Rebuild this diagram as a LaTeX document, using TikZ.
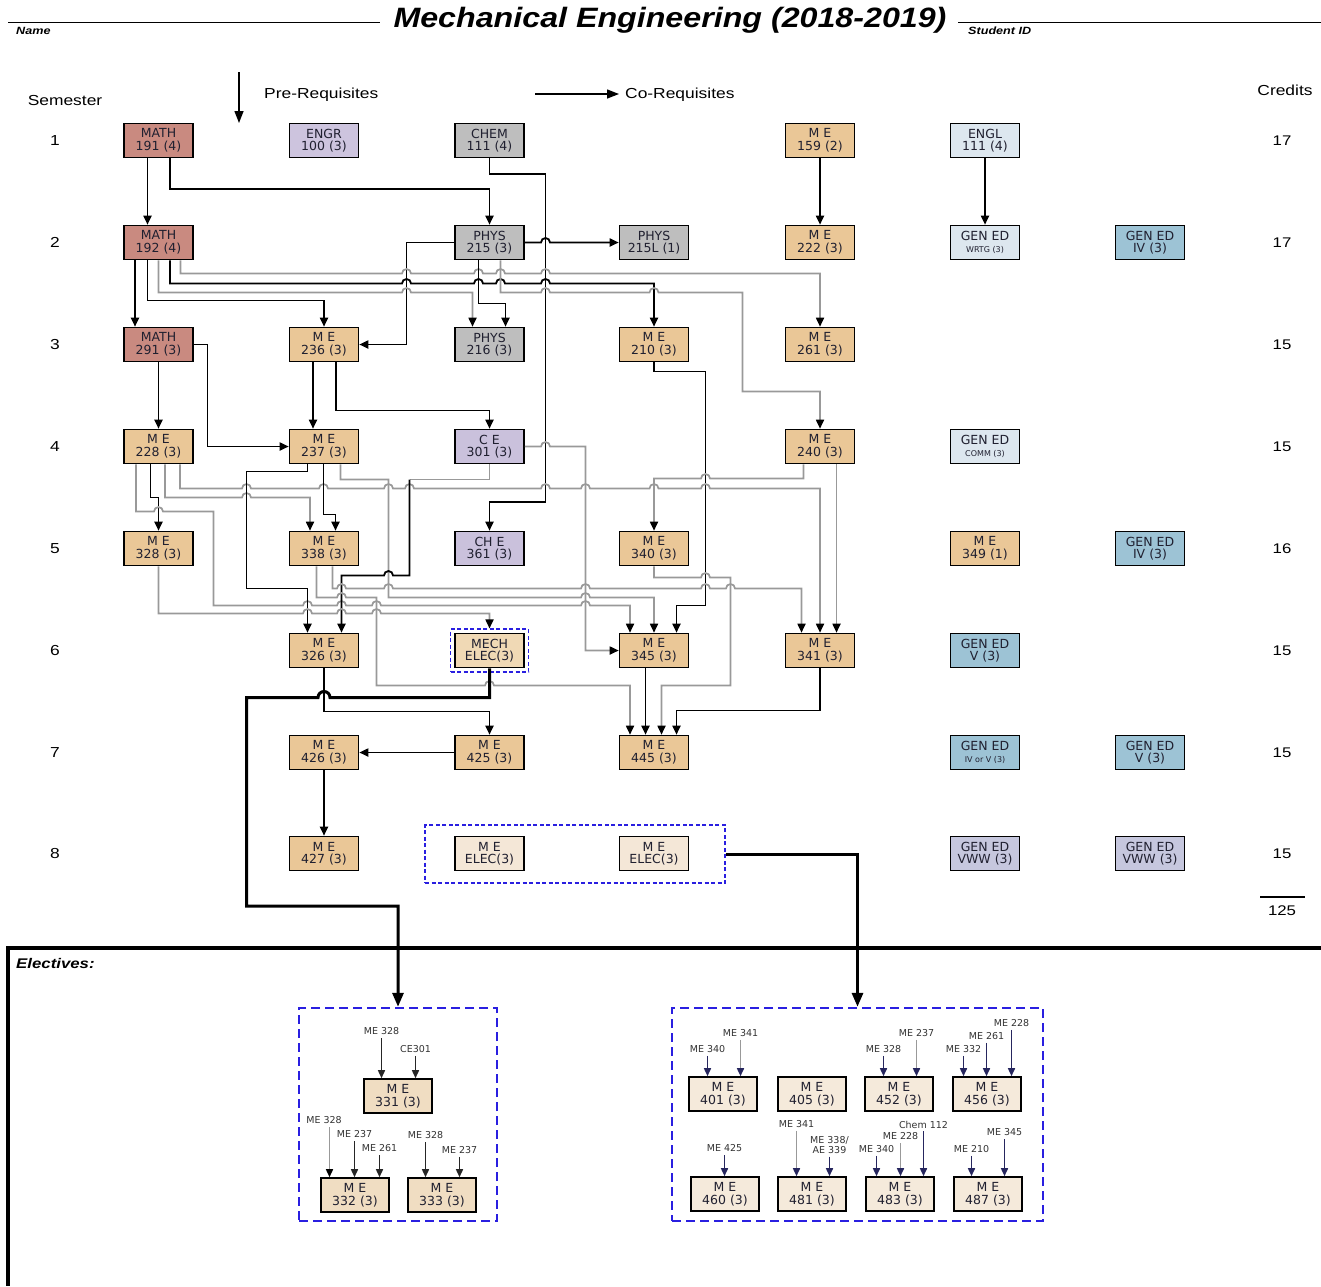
\documentclass[tikz,border=0pt]{standalone}
\usepackage{fontspec}
\setmainfont{Liberation Sans}
\newfontfamily\widesans[FakeStretch=1.2]{Liberation Sans}
\newfontfamily\titlesans[FakeStretch=1.15]{Liberation Sans}
\newfontfamily\boxsans{DejaVu Sans}
\usetikzlibrary{arrows.meta}

\definecolor{mathfill}{HTML}{C98A80}
\definecolor{engrfill}{HTML}{CDC4DE}
\definecolor{scifill}{HTML}{BEBEBE}
\definecolor{mefill}{HTML}{EAC797}
\definecolor{cefill}{HTML}{CAC1DC}
\definecolor{englfill}{HTML}{DDE7EF}
\definecolor{genfill}{HTML}{9DC3D5}
\definecolor{vwwfill}{HTML}{C6C7DE}
\definecolor{mechfill}{HTML}{F0D9B5}
\definecolor{elecfill}{HTML}{F4E7D7}
\definecolor{optafill}{HTML}{F0DDC2}
\definecolor{optbfill}{HTML}{F5EADB}
\definecolor{linegray}{HTML}{999999}
\definecolor{dashblue}{HTML}{2A1FE0}
\definecolor{navy}{HTML}{26265E}
\definecolor{boxtext}{HTML}{202030}

% small jumps of a horizontal line over a vertical one at x=#1, y=#2
\newcommand\hopR[2]{-- ({#1-4.5},#2) arc[start angle=180,end angle=0,radius=4.5pt]}
\newcommand\hopL[2]{-- ({#1+4.5},#2) arc[start angle=0,end angle=180,radius=4.5pt]}
\newcommand\bighopL[2]{-- ({#1+6},#2) arc[start angle=0,end angle=180,radius=6pt]}
\newcommand\smalltxt{\fontsize{8}{9}\selectfont}

\tikzset{
  course/.style={draw=black, line width=1.6pt, minimum width=69pt, minimum height=34pt,
    inner sep=0pt, align=center, text=boxtext, font=\boxsans\fontsize{12.5}{12.5}\selectfont},
  mathbox/.style={course, fill=mathfill},
  engrbox/.style={course, fill=engrfill},
  scibox/.style={course, fill=scifill},
  mebox/.style={course, fill=mefill},
  cebox/.style={course, fill=cefill},
  englbox/.style={course, fill=englfill},
  genbox/.style={course, fill=genfill},
  vwwbox/.style={course, fill=vwwfill},
  mechbox/.style={course, fill=mechfill},
  elecbox/.style={course, fill=elecfill},
  optabox/.style={course, fill=optafill, minimum width=68pt, minimum height=34pt},
  optbbox/.style={course, fill=optbfill, minimum width=68pt, minimum height=34pt},
  dashframe/.style={draw=dashblue, line width=1.1pt, dash pattern=on 4pt off 2.5pt, inner sep=0pt},
  bigframe/.style={draw=dashblue, line width=2.4pt, dash pattern=on 9pt off 5pt, inner sep=0pt},
  preline/.style={draw=black, line width=1.8pt, -{Triangle[length=9pt,width=8pt]}},
  coline/.style={draw=linegray, line width=1.7pt, -{Triangle[length=9pt,width=8pt,color=black]}},
  legendarrow/.style={draw=black, line width=1.4pt, -{Triangle[length=12pt,width=9pt]}},
  thickarrow/.style={draw=black, line width=3pt, -{Triangle[length=14pt,width=11pt]}},
  legend/.style={inner sep=1pt, font=\widesans\fontsize{14.5}{16}\selectfont},
  credit/.style={inner sep=1pt, font=\widesans\fontsize{14}{16}\selectfont},
  optlabel/.style={inner sep=1pt, align=center, text=black!80, font=\boxsans\fontsize{9.5}{10}\selectfont},
  optarrow/.style={draw=black!85, line width=1.5pt, shorten <=2pt, -{Triangle[length=8pt,width=7pt]}},
  optgrayarrow/.style={draw=linegray, line width=1.5pt, shorten <=2pt, -{Triangle[length=8pt,width=7pt,color=black]}},
  optnavy/.style={draw=navy, line width=1.5pt, shorten <=2pt, -{Triangle[length=8pt,width=7pt]}},
  optnavygray/.style={draw=linegray, line width=1.5pt, shorten <=2pt, -{Triangle[length=8pt,width=7pt,color=navy]}},
}

\begin{document}
\begin{tikzpicture}[x=1pt,y=-1pt]
\useasboundingbox (0,0) rectangle (1321,1286);
\fill[white] (0,0) rectangle (1321,1286);

% ---------- header ----------
\node[font=\titlesans\bfseries\itshape\fontsize{28}{30}\selectfont, inner sep=0pt] (title) at (670,20) {Mechanical Engineering (2018-2019)};
\draw[line width=1pt] (8,22) -- (380,22);
\draw[line width=1pt] (958,22) -- (1321,22);
\node[font=\widesans\bfseries\itshape\fontsize{10.5}{12}\selectfont, anchor=west, inner sep=0pt] (namelbl) at (16,31) {Name};
\node[font=\widesans\bfseries\itshape\fontsize{10.5}{12}\selectfont, anchor=west, inner sep=0pt] (idlbl) at (968,31) {Student ID};

% ---------- legend ----------
\node[legend] (semh) at (65,101) {Semester};
\coordinate (lgA) at (239,72);
\coordinate (lgB) at (239,123);
\draw[legendarrow] (lgA) -- (lgB);
\node[legend, anchor=west] (preh) at (263,95) {Pre-Requisites};
\coordinate (lgC) at (535,94);
\coordinate (lgD) at (619,94);
\draw[legendarrow] (lgC) -- (lgD);
\node[legend, anchor=west] (coh) at (624,95) {Co-Requisites};
\node[legend] (crh) at (1285,90) {Credits};

% ---------- semester numbers and credits ----------
\foreach \s/\yy/\cr in {1/140.5/17, 2/242.5/17, 3/344.5/15, 4/446.5/15, 5/548.5/16, 6/650.5/15, 7/752.5/15, 8/853.5/15}{
  \node[legend] (sem\s) at (55,\yy) {\s};
  \node[credit] (cred\s) at (1282,\yy) {\cr};
}
\draw[line width=1.6pt] (1260,897) -- (1305,897);
\node[credit] (total) at (1282,911) {125};

% ---------- courses ----------
\node[mathbox] (m191) at (158.5,140.5) {MATH\\191 (4)};
\node[engrbox] (e100) at (324,140.5) {ENGR\\100 (3)};
\node[scibox] (ch111) at (489.5,140.5) {CHEM\\111 (4)};
\node[mebox] (me159) at (820,140.5) {M E\\159 (2)};
\node[englbox] (en111) at (985,140.5) {ENGL\\111 (4)};

\node[mathbox] (m192) at (158.5,242.5) {MATH\\192 (4)};
\node[scibox] (p215) at (489.5,242.5) {PHYS\\215 (3)};
\node[scibox] (p215l) at (654,242.5) {PHYS\\215L (1)};
\node[mebox] (me222) at (820,242.5) {M E\\222 (3)};
\node[englbox] (gwrtg) at (985,242.5) {GEN ED\\\smalltxt WRTG (3)};
\node[genbox] (giv1) at (1150,242.5) {GEN ED\\IV (3)};

\node[mathbox] (m291) at (158.5,344.5) {MATH\\291 (3)};
\node[mebox] (me236) at (324,344.5) {M E\\236 (3)};
\node[scibox] (p216) at (489.5,344.5) {PHYS\\216 (3)};
\node[mebox] (me210) at (654,344.5) {M E\\210 (3)};
\node[mebox] (me261) at (820,344.5) {M E\\261 (3)};

\node[mebox] (me228) at (158.5,446.5) {M E\\228 (3)};
\node[mebox] (me237) at (324,446.5) {M E\\237 (3)};
\node[cebox] (ce301) at (489.5,446.5) {C E\\301 (3)};
\node[mebox] (me240) at (820,446.5) {M E\\240 (3)};
\node[englbox] (gcomm) at (985,446.5) {GEN ED\\\smalltxt COMM (3)};

\node[mebox] (me328) at (158.5,548.5) {M E\\328 (3)};
\node[mebox] (me338) at (324,548.5) {M E\\338 (3)};
\node[cebox] (che361) at (489.5,548.5) {CH E\\361 (3)};
\node[mebox] (me340) at (654,548.5) {M E\\340 (3)};
\node[mebox] (me349) at (985,548.5) {M E\\349 (1)};
\node[genbox] (giv2) at (1150,548.5) {GEN ED\\IV (3)};

\node[mebox] (me326) at (324,650.5) {M E\\326 (3)};
\node[dashframe, minimum width=78pt, minimum height=43pt] (mechf) at (489.5,650.5) {};
\node[mechbox] (mech) at (489.5,650.5) {MECH\\ELEC(3)};
\node[mebox] (me345) at (654,650.5) {M E\\345 (3)};
\node[mebox] (me341) at (820,650.5) {M E\\341 (3)};
\node[genbox] (gv1) at (985,650.5) {GEN ED\\V (3)};

\node[mebox] (me426) at (324,752.5) {M E\\426 (3)};
\node[mebox] (me425) at (489.5,752.5) {M E\\425 (3)};
\node[mebox] (me445) at (654,752.5) {M E\\445 (3)};
\node[genbox] (givv) at (985,752.5) {GEN ED\\\smalltxt IV or V (3)};
\node[genbox] (gv2) at (1150,752.5) {GEN ED\\V (3)};

\node[mebox] (me427) at (324,853.5) {M E\\427 (3)};
\node[dashframe, minimum width=300pt, minimum height=58pt] (elgrp) at (575,854) {};
\node[elecbox] (el1) at (489.5,853.5) {M E\\ELEC(3)};
\node[elecbox] (el2) at (654,853.5) {M E\\ELEC(3)};
\node[vwwbox] (gvww1) at (985,853.5) {GEN ED\\VWW (3)};
\node[vwwbox] (gvww2) at (1150,853.5) {GEN ED\\VWW (3)};

% ---------- prerequisite and co-requisite lines ----------
\draw[preline] ([xshift=-11pt]m191.south) -- ([xshift=-11pt]m192.north);
\draw[preline] ([xshift=11.5pt]m191.south) |- (489.5,189) -- (p215.north);
\draw[preline] (ch111.south) |- (545.5,174) -- (545.5,502) -| (che361.north);
\draw[preline] (me159.south) -- (me222.north);
\draw[preline] (en111.south) -- (gwrtg.north);
\draw[preline] (p215.east) \hopR{545.5}{242.5} -- (p215l.west);
\draw[preline] (p215.west) -| (406.5,344.5) -- (me236.east);

\draw[preline] ([xshift=-23.5pt]m192.south) -- ([xshift=-23.5pt]m291.north);
\draw[preline] ([xshift=-11pt]m192.south) |- (324,300.5) -- (me236.north);
\draw[coline] (m192.south) -- (158.5,292.5) \hopR{406.5}{292.5} -| ([xshift=-17pt]p216.north);
\draw[preline] ([xshift=11.5pt]m192.south) -- (170,283.5) \hopR{406.5}{283.5} \hopR{478.5}{283.5} \hopR{500.5}{283.5} \hopR{545.5}{283.5} -| (me210.north);
\draw[coline] ([xshift=22pt]m192.south) -- (180.5,273.5) \hopR{406.5}{273.5} \hopR{478.5}{273.5} \hopR{500.5}{273.5} \hopR{545.5}{273.5} -| (me261.north);
\draw[preline] ([xshift=-11pt]p215.south) |- (505.5,303.5) -- ([xshift=16pt]p216.north);
\draw[coline] ([xshift=11pt]p215.south) -- (500.5,292.5) \hopR{545.5}{292.5} \hopR{654}{292.5} -- (742.5,292.5) |- (820,391.5) -- (me240.north);

\draw[preline] (m291.south) -- (me228.north);
\draw[preline] (m291.east) -| (207.5,446.5) -- (me237.west);
\draw[preline] ([xshift=-11pt]me236.south) -- ([xshift=-11pt]me237.north);
\draw[preline] ([xshift=12pt]me236.south) |- (489.5,410.5) -- (ce301.north);
\draw[preline] (me210.south) |- (705.5,371.5) |- (676.5,605.5) -- ([xshift=22.5pt]me345.north);

\draw[preline] ([xshift=-8pt]me228.south) |- (158.5,497.5) -- (me328.north);
\draw[coline] ([xshift=-22.5pt]me228.south) -- (136,511.5) \hopR{158.5}{511.5} -- (213.5,511.5) -- (213.5,605.5)
   \hopR{307.5}{605.5} \hopR{341.5}{605.5} \hopR{376.5}{605.5} \hopR{585.5}{605.5} -| ([xshift=-24pt]me345.north);
\draw[coline] ([xshift=6.5pt]me228.south) -- (165,497.5) \hopR{246.5}{497.5} -| ([xshift=-14pt]me338.north);
\draw[coline] ([xshift=21.5pt]me228.south) -- (180,488.5) \hopR{246.5}{488.5} \hopR{323.5}{488.5} \hopR{388.5}{488.5} \hopR{409.5}{488.5}
   \hopR{545.5}{488.5} \hopR{585.5}{488.5} \hopR{654}{488.5} \hopR{705.5}{488.5} -| (me341.north);

\draw[preline] ([xshift=-16.5pt]me237.south) |- (246.5,471.5) |- (307.5,588.5) -- ([xshift=-16.5pt]me326.north);
\draw[preline] ([xshift=-0.5pt]me237.south) |- (335.5,514.5) -- ([xshift=11.5pt]me338.north);
\draw[coline] ([xshift=16.5pt]me237.south) |- (388.5,479.5) -- (388.5,597.5) \hopR{585.5}{597.5} -| (me345.north);

\coordinate (cejoint) at (409.5,479.5);
\draw[draw=linegray, line width=1.7pt] (ce301.south) |- (cejoint);
\draw[preline] (cejoint) -- (409.5,575.5) \hopL{388.5}{575.5} -| ([xshift=17.5pt]me326.north);
\draw[coline] (ce301.east) \hopR{545.5}{446.5} -| (585.5,650.5) -- (me345.west);

\draw[coline] ([xshift=-16.5pt]me240.south) -- (803.5,478.5) \hopL{705.5}{478.5} -| (me340.north);
\draw[coline] ([xshift=16.5pt]me240.south) -- ([xshift=16.5pt]me341.north);

\draw[coline] ([xshift=8.5pt]me338.south) -- (332.5,588.5) \hopR{341.5}{588.5} \hopR{388.5}{588.5} \hopR{585.5}{588.5}
   \hopR{705.5}{588.5} \hopR{730.5}{588.5} -| ([xshift=-18.5pt]me341.north);
\draw[coline] ([xshift=-7.5pt]me338.south) -- (316.5,597.5) \hopR{341.5}{597.5} -- (376.5,597.5) -- (376.5,685.5)
   \hopR{489.5}{685.5} -| ([xshift=-24pt]me445.north);
\draw[coline] (me340.south) -- (654,577.5) \hopR{705.5}{577.5} -- (730.5,577.5) |- (661.5,685.5) -- ([xshift=7.5pt]me445.north);
\draw[coline] (me328.south) -- (158.5,613.5) \hopR{307.5}{613.5} \hopR{341.5}{613.5} \hopR{376.5}{613.5} -| (mechf.north);

\draw[preline] (me326.south) |- (489.5,711.5) -- (me425.north);
\draw[preline] ([xshift=-8.5pt]me345.south) -- ([xshift=-8.5pt]me445.north);
\draw[preline] (me341.south) |- (676.5,710.5) -- ([xshift=22.5pt]me445.north);
\draw[preline] (me425.west) -- (me426.east);
\draw[preline] (me426.south) -- (me427.north);

% ---------- electives section ----------
\draw[line width=4pt] (1321,948) -- (8,948) -- (8,1286);
\node[font=\widesans\bfseries\itshape\fontsize{14}{16}\selectfont, anchor=west, inner sep=0pt] (electh) at (16,963) {Electives:};

\node[bigframe, minimum width=198pt, minimum height=213pt] (opta) at (398,1114.5) {};
\node[bigframe, minimum width=371pt, minimum height=213pt] (optb) at (857.5,1114.5) {};

\draw[thickarrow] (mech.south) -- (489.5,697.5) \bighopL{324}{697.5} -- (246.5,697.5) |- (398,906) -- (opta.north);
\draw[thickarrow] (elgrp.east) -| (optb.north);

% mechanical electives, group one
\node[optabox] (o331) at (398,1096) {M E\\331 (3)};
\node[optabox] (o332) at (355,1195) {M E\\332 (3)};
\node[optabox] (o333) at (442,1195) {M E\\333 (3)};

\node[optlabel] (q1) at (381.5,1031.5) {ME 328};
\node[optlabel] (q2) at (415.5,1049) {CE301};
\node[optlabel] (q3) at (324,1120.5) {ME 328};
\node[optlabel] (q4) at (354.5,1134.5) {ME 237};
\node[optlabel] (q5) at (379.5,1148.5) {ME 261};
\node[optlabel] (q6) at (425.5,1135.5) {ME 328};
\node[optlabel] (q7) at (459.5,1150) {ME 237};
\draw[optarrow] (q1.south) -- (q1.south |- o331.north);
\draw[optarrow] (q2.south) -- (q2.south |- o331.north);
\draw[optgrayarrow] ([xshift=5.5pt]q3.south) -- ([xshift=5.5pt]q3.south |- o332.north);
\draw[optarrow] (q4.south) -- (q4.south |- o332.north);
\draw[optarrow] (q5.south) -- (q5.south |- o332.north);
\draw[optarrow] (q6.south) -- (q6.south |- o333.north);
\draw[optarrow] (q7.south) -- (q7.south |- o333.north);

% mechanical electives, group two
\node[optbbox] (o401) at (723,1094) {M E\\401 (3)};
\node[optbbox] (o405) at (812,1094) {M E\\405 (3)};
\node[optbbox] (o452) at (899,1094) {M E\\452 (3)};
\node[optbbox] (o456) at (987,1094) {M E\\456 (3)};
\node[optbbox] (o460) at (725,1194) {M E\\460 (3)};
\node[optbbox] (o481) at (812,1194) {M E\\481 (3)};
\node[optbbox] (o483) at (900,1194) {M E\\483 (3)};
\node[optbbox] (o487) at (988,1194) {M E\\487 (3)};

\node[optlabel] (r1) at (707.5,1049) {ME 340};
\node[optlabel] (r2) at (740.5,1033) {ME 341};
\node[optlabel] (r3) at (883.5,1049) {ME 328};
\node[optlabel] (r4) at (916.5,1033) {ME 237};
\node[optlabel] (r5) at (963.5,1049) {ME 332};
\node[optlabel] (r6) at (986.5,1036) {ME 261};
\node[optlabel] (r7) at (1011.5,1023) {ME 228};
\node[optlabel] (r8) at (724.5,1148.5) {ME 425};
\node[optlabel] (r9) at (796.5,1124) {ME 341};
\node[optlabel, font=\boxsans\fontsize{9.5}{9.5}\selectfont] (r10) at (829.5,1145) {ME 338/\\AE 339};
\node[optlabel] (r11) at (876.5,1149) {ME 340};
\node[optlabel] (r12) at (900.5,1136.5) {ME 228};
\node[optlabel] (r13) at (923.5,1124.5) {Chem 112};
\node[optlabel] (r14) at (971.5,1149) {ME 210};
\node[optlabel] (r15) at (1004.5,1132.5) {ME 345};
\draw[optnavy] (r1.south) -- (r1.south |- o401.north);
\draw[optnavygray] (r2.south) -- (r2.south |- o401.north);
\draw[optnavy] (r3.south) -- (r3.south |- o452.north);
\draw[optnavygray] (r4.south) -- (r4.south |- o452.north);
\draw[optnavy] (r5.south) -- (r5.south |- o456.north);
\draw[optnavy] (r6.south) -- (r6.south |- o456.north);
\draw[optnavy] (r7.south) -- (r7.south |- o456.north);
\draw[optnavy] (r8.south) -- (r8.south |- o460.north);
\draw[optnavygray] (r9.south) -- (r9.south |- o481.north);
\draw[optnavy] (r10.south) -- (r10.south |- o481.north);
\draw[optnavy] (r11.south) -- (r11.south |- o483.north);
\draw[optnavygray] (r12.south) -- (r12.south |- o483.north);
\draw[optnavy] (r13.south) -- (r13.south |- o483.north);
\draw[optnavy] (r14.south) -- (r14.south |- o487.north);
\draw[optnavy] (r15.south) -- (r15.south |- o487.north);
\end{tikzpicture}
\end{document}
